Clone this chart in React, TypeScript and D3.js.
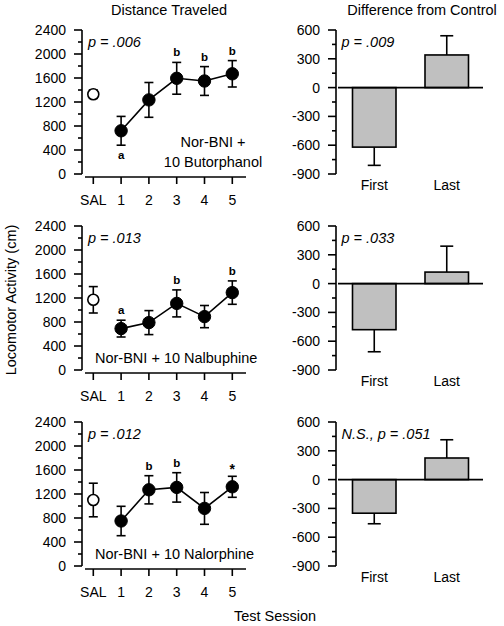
import React from "react";
import * as d3 from "d3";

// ---------- data ----------
const sessions = ["SAL", "1", "2", "3", "4", "5"];
const diffGroups = ["First", "Last"];

const butorMeans = [1330, 720, 1235, 1595, 1550, 1670];
const butorSem = [70, 240, 290, 265, 240, 220];
const butorSig = ["", "a", "", "b", "b", "b"];
const butorSigPos = ["", "below", "", "above", "above", "above"];
const butorDiff = [-620, 340];
const butorDiffSem = [190, 200];

const nalbuMeans = [1170, 690, 790, 1110, 890, 1290];
const nalbuSem = [220, 140, 200, 225, 185, 195];
const nalbuSig = ["", "a", "", "b", "", "b"];
const nalbuSigPos = ["", "above", "", "above", "", "above"];
const nalbuDiff = [-480, 120];
const nalbuDiffSem = [230, 270];

const nalorMeans = [1100, 750, 1270, 1310, 960, 1320];
const nalorSem = [280, 245, 235, 245, 265, 175];
const nalorSig = ["", "", "b", "b", "", "*"];
const nalorSigPos = ["", "", "above", "above", "", "above"];
const nalorDiff = [-350, 225];
const nalorDiffSem = [110, 190];

const leftTicks = [0, 400, 800, 1200, 1600, 2000, 2400];
const leftMinor = [200, 600, 1000, 1400, 1800, 2200];
const rightTicks = [-900, -600, -300, 0, 300, 600];
const rightMinor = [-750, -450, -150, 150, 450];

const pLeft = ["p = .006", "p = .013", "p = .012"];
const pRight = ["p = .009", "p = .033", "N.S., p = .051"];
const drugLabels = [["Nor-BNI +", "10 Butorphanol"], ["Nor-BNI + 10 Nalbuphine"], ["Nor-BNI + 10 Nalorphine"]];

const panels = [
  { means: butorMeans, sem: butorSem, sig: butorSig, sigPos: butorSigPos, diff: butorDiff, diffSem: butorDiffSem },
  { means: nalbuMeans, sem: nalbuSem, sig: nalbuSig, sigPos: nalbuSigPos, diff: nalbuDiff, diffSem: nalbuDiffSem },
  { means: nalorMeans, sem: nalorSem, sig: nalorSig, sigPos: nalorSigPos, diff: nalorDiff, diffSem: nalorDiffSem },
];

const FONT = "'Liberation Sans', Arial, Helvetica, sans-serif";
const W = 504;
const H = 626;
const panelTops = [30, 226, 422];
const PH = 144;
const LW = 1.6;

function LeftPanel({ idx }: { idx: number }) {
  const p = panels[idx];
  const top = panelTops[idx];
  const bottom = top + PH;
  const axisX = 82;
  const y = d3.scaleLinear().domain([0, 2400]).range([bottom, top]);
  const x = d3.scalePoint<string>().domain(sessions).range([93.3, 232.3]);
  const xAxisY = bottom + 3;
  const line = d3
    .line<number>()
    .x((_, i) => x(sessions[i + 1]) as number)
    .y((d) => y(d));
  const trend = p.means.slice(1);
  const capW = 4.5;
  return (
    <g>
      {/* y axis */}
      <line x1={axisX} x2={axisX} y1={top} y2={bottom} stroke="#000" strokeWidth={LW} />
      {leftTicks.map((t) => (
        <g key={"t" + t}>
          <line x1={axisX - 8} x2={axisX} y1={y(t)} y2={y(t)} stroke="#000" strokeWidth={LW} />
          <text x={66} y={y(t)} dy="0.36em" textAnchor="end" fontSize={14} fontFamily={FONT}>
            {t}
          </text>
        </g>
      ))}
      {leftMinor.map((t) => (
        <line key={"m" + t} x1={axisX - 4} x2={axisX} y1={y(t)} y2={y(t)} stroke="#000" strokeWidth={LW} />
      ))}
      {/* x axis */}
      <line x1={85} x2={246} y1={xAxisY} y2={xAxisY} stroke="#000" strokeWidth={LW} />
      {sessions.map((s) => (
        <g key={"x" + s}>
          <line x1={x(s)} x2={x(s)} y1={xAxisY} y2={xAxisY + 7} stroke="#000" strokeWidth={LW} />
          <text x={x(s)} y={bottom + 31} textAnchor="middle" fontSize={14} fontFamily={FONT}>
            {s}
          </text>
        </g>
      ))}
      {/* error bars */}
      {p.means.map((m, i) => {
        const cx = x(sessions[i]) as number;
        const yt = y(m + p.sem[i]);
        const yb = y(m - p.sem[i]);
        return (
          <g key={"e" + i}>
            <line x1={cx} x2={cx} y1={yt} y2={yb} stroke="#000" strokeWidth={LW} />
            <line x1={cx - capW} x2={cx + capW} y1={yt} y2={yt} stroke="#000" strokeWidth={LW} />
            <line x1={cx - capW} x2={cx + capW} y1={yb} y2={yb} stroke="#000" strokeWidth={LW} />
          </g>
        );
      })}
      <path d={line(trend) || ""} fill="none" stroke="#000" strokeWidth={LW} />
      {p.means.map((m, i) => (
        <circle
          key={"c" + i}
          cx={x(sessions[i])}
          cy={y(m)}
          r={i === 0 ? 5.5 : 6.2}
          fill={i === 0 ? "#fff" : "#000"}
          stroke="#000"
          strokeWidth={i === 0 ? 1.6 : 1}
        />
      ))}
      {p.sig.map((s, i) =>
        s ? (
          <text
            key={"s" + i}
            x={x(sessions[i])}
            y={
              p.sigPos[i] === "below"
                ? y(p.means[i] - p.sem[i]) + 14
                : y(p.means[i] + p.sem[i]) - (s === "*" ? 2 : 6)
            }
            textAnchor="middle"
            fontSize={s === "*" ? 14 : 11.5}
            fontWeight="bold"
            fontFamily={FONT}
          >
            {s}
          </text>
        ) : null
      )}
      <text x={88} y={top + 17} fontSize={14.5} fontStyle="italic" fontFamily={FONT}>
        {pLeft[idx]}
      </text>
      {drugLabels[idx].length === 2 ? (
        drugLabels[idx].map((l, k) => (
          <text key={"d" + k} x={213} y={top + 117 + k * 20} textAnchor="middle" fontSize={14.5} fontFamily={FONT}>
            {l}
          </text>
        ))
      ) : (
        <text x={95} y={top + 137} fontSize={14.5} fontFamily={FONT}>
          {drugLabels[idx][0]}
        </text>
      )}
    </g>
  );
}

function RightPanel({ idx }: { idx: number }) {
  const p = panels[idx];
  const top = panelTops[idx];
  const bottom = top + PH;
  const axisX = 336;
  const y = d3.scaleLinear().domain([-900, 600]).range([bottom, top]);
  const x = d3.scaleBand<string>().domain(diffGroups).range([338, 483]).paddingInner(0.4).paddingOuter(0.2);
  const capW = 6.5;
  return (
    <g>
      <line x1={axisX} x2={axisX} y1={top} y2={bottom} stroke="#000" strokeWidth={LW} />
      {rightTicks.map((t) => (
        <g key={"t" + t}>
          <line x1={axisX - 8} x2={axisX} y1={y(t)} y2={y(t)} stroke="#000" strokeWidth={LW} />
          <text x={320} y={y(t)} dy="0.36em" textAnchor="end" fontSize={14} fontFamily={FONT}>
            {t}
          </text>
        </g>
      ))}
      {rightMinor.map((t) => (
        <line key={"m" + t} x1={axisX - 4} x2={axisX} y1={y(t)} y2={y(t)} stroke="#000" strokeWidth={LW} />
      ))}
      {p.diff.map((d, i) => {
        const g = diffGroups[i];
        const bx = x(g) as number;
        const bw = x.bandwidth();
        const cx = bx + bw / 2;
        const yEnd = y(d);
        const yErr = y(d + Math.sign(d) * p.diffSem[i]);
        return (
          <g key={"b" + i}>
            <line x1={cx} x2={cx} y1={yEnd} y2={yErr} stroke="#000" strokeWidth={LW} />
            <line x1={cx - capW} x2={cx + capW} y1={yErr} y2={yErr} stroke="#000" strokeWidth={LW} />
            <rect
              x={bx}
              y={Math.min(yEnd, y(0))}
              width={bw}
              height={Math.abs(yEnd - y(0))}
              fill="#c0c0c0"
              stroke="#000"
              strokeWidth={LW}
            />
            <text x={cx} y={bottom + 16} textAnchor="middle" fontSize={14} fontFamily={FONT}>
              {g}
            </text>
          </g>
        );
      })}
      <line x1={338} x2={483} y1={y(0)} y2={y(0)} stroke="#000" strokeWidth={LW} />
      <text x={341.5} y={top + 17} fontSize={14.5} fontStyle="italic" fontFamily={FONT}>
        {pRight[idx]}
      </text>
    </g>
  );
}

export default function App() {
  return (
    <svg
      width={W}
      height={H}
      viewBox={`0 0 ${W} ${H}`}
      style={{ position: "absolute", left: 0, top: 0, background: "#fff" }}
    >
      <rect x={0} y={0} width={W} height={H} fill="#fff" />
      <text x={169} y={15} textAnchor="middle" fontSize={14.5} fontFamily={FONT}>
        Distance Traveled
      </text>
      <text x={422} y={15} textAnchor="middle" fontSize={14.5} fontFamily={FONT}>
        Difference from Control
      </text>
      <text
        transform="translate(16,300) rotate(-90)"
        textAnchor="middle"
        fontSize={14.5}
        fontFamily={FONT}
      >
        Locomotor Activity (cm)
      </text>
      <text x={275} y={621} textAnchor="middle" fontSize={14.5} fontFamily={FONT}>
        Test Session
      </text>
      {[0, 1, 2].map((i) => (
        <g key={i}>
          <LeftPanel idx={i} />
          <RightPanel idx={i} />
        </g>
      ))}
    </svg>
  );
}
